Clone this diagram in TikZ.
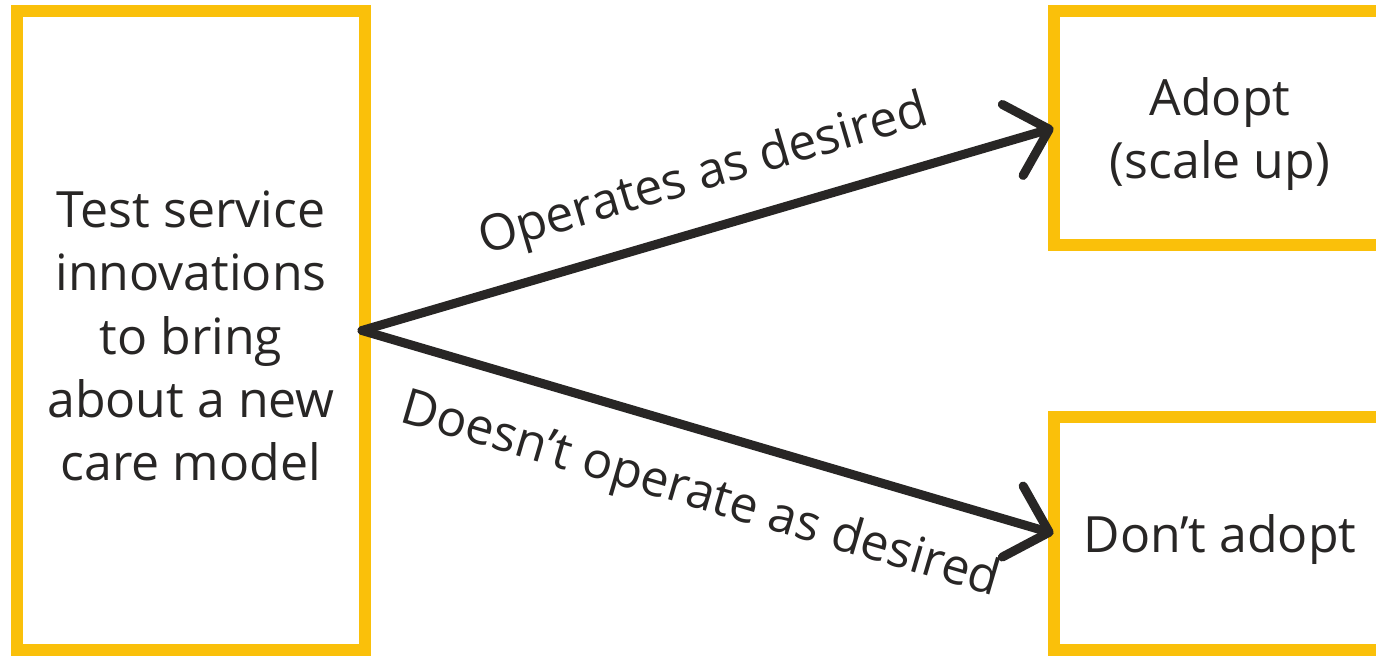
\documentclass[tikz,border=0pt]{standalone}
\usepackage{fontspec}
\setmainfont{Open Sans}
\usetikzlibrary{arrows.meta}
\definecolor{boxyellow}{RGB}{250,192,10}
\definecolor{ink}{RGB}{40,38,37}
\begin{document}
\begin{tikzpicture}[x=0.5pt,y=-0.5pt,
  box/.style={draw=boxyellow, line width=6pt, rectangle, inner sep=0pt, outer sep=0pt},
  txt/.style={text=ink, align=center, inner sep=0pt, font=\fontsize{25pt}{31.6pt}\selectfont},
  flow/.style={draw=ink, line width=4.5pt, line cap=round, line join=round,
    -{Straight Barb[length=19pt,width=37pt,round]}},
  lbl/.style={text=ink, inner sep=0pt, font=\fontsize{25pt}{31.6pt}\selectfont}
]
\useasboundingbox (0,0) rectangle (1376,655);
\fill[white] (0,0) rectangle (1376,655);
\node[box, minimum width=174pt, minimum height=319.5pt] (test) at (191,330.5) {};
\node[box, minimum width=166.5pt, minimum height=117pt] (adopt) at (1220,128) {};
\node[box, minimum width=166.5pt, minimum height=116.5pt] (dont) at (1220,533.5) {};
\node[txt] (testtext) at (191,336)
  {Test service\\innovations\\to bring\\about a new\\care model};
\node[txt] (adopttext) at (1220,134) {Adopt\\(scale up)};
\node[txt] (donttext) at (1220,539.5) {Don’t adopt};
\coordinate (start) at ([xshift=-1.5pt]test.east);
\draw[flow] (start) -- (adopt.west)
  node[lbl, pos=0.515, sloped, above=11pt] (l1) {Operates as desired};
\draw[flow] (start) -- (dont.west)
  node[lbl, pos=0.515, sloped, below=17pt] (l2) {Doesn’t operate as desired};
\end{tikzpicture}
\end{document}
